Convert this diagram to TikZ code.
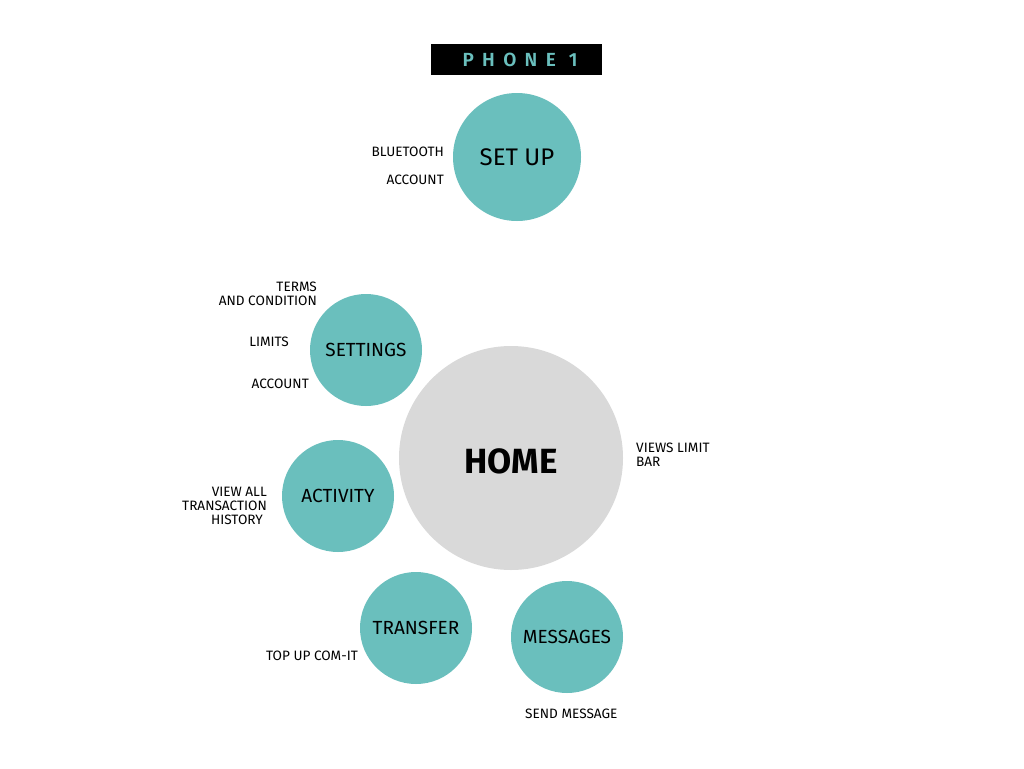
\documentclass[tikz,border=0pt]{standalone}
\usepackage{fontspec}
\setmainfont{Fira Sans}
\newfontfamily\spacedfont[LetterSpace=44]{Fira Sans SemiBold}
\definecolor{teal1}{HTML}{6ABFBD}
\definecolor{home}{HTML}{D9D9D9}
\begin{document}
\begin{tikzpicture}[x=1pt,y=-1pt,
  bubble/.style={circle,fill=teal1,inner sep=0pt,font=\fontsize{19}{22}\selectfont},
  note/.style={inner sep=0pt,font=\fontsize{13.6}{14}\selectfont},
  notel/.style={note,anchor=mid west},
  noter/.style={note,anchor=mid east}]
\useasboundingbox[fill=white] (0,0) rectangle (1024,768);

% title bar
\node[fill=black,minimum width=171pt,minimum height=31pt,inner sep=0pt] (title) at (516.5,59.5) {};
\node[text=teal1,font=\spacedfont\fontsize{19}{22}\selectfont,inner sep=0pt] (titletext) at (520,60) {PHONE 1};

% bubbles
\node[bubble,minimum size=128pt,font=\fontsize{24}{28}\selectfont] (setup) at (517,157) {SET UP};
\node[circle,fill=home,inner sep=0pt,minimum size=224pt] (homec) at (511,458) {};
\node[font=\bfseries\fontsize{35}{40}\selectfont,inner sep=0pt] (home) at (511,461) {HOME};
\node[bubble,minimum size=112pt] (settings) at (366,350) {SETTINGS};
\node[bubble,minimum size=112pt] (activity) at (338,496) {ACTIVITY};
\node[bubble,minimum size=112pt] (transfer) at (416,628) {TRANSFER};
\node[bubble,minimum size=112pt] (messages) at (567,637) {MESSAGES};

% feature notes
\node[noter] (bt) at (444,153.5) {BLUETOOTH};
\node[noter] (acc1) at (444,181.5) {ACCOUNT};
\node[note,anchor=east,align=right] (terms) at (317,294) {TERMS\\AND CONDITION};
\node[noter] (limits) at (289,343.5) {LIMITS};
\node[noter] (acc2) at (309,385.5) {ACCOUNT};
\node[note,anchor=west,align=left] (views) at (636,455) {VIEWS LIMIT\\BAR};
\node[note,anchor=east,align=right] (history) at (267,506) {VIEW ALL\\TRANSACTION\\HISTORY\hspace*{4pt}};
\node[noter] (topup) at (358,657.5) {TOP UP COM-IT};
\node[notel] (send) at (525,715.5) {SEND MESSAGE};
\end{tikzpicture}
\end{document}
